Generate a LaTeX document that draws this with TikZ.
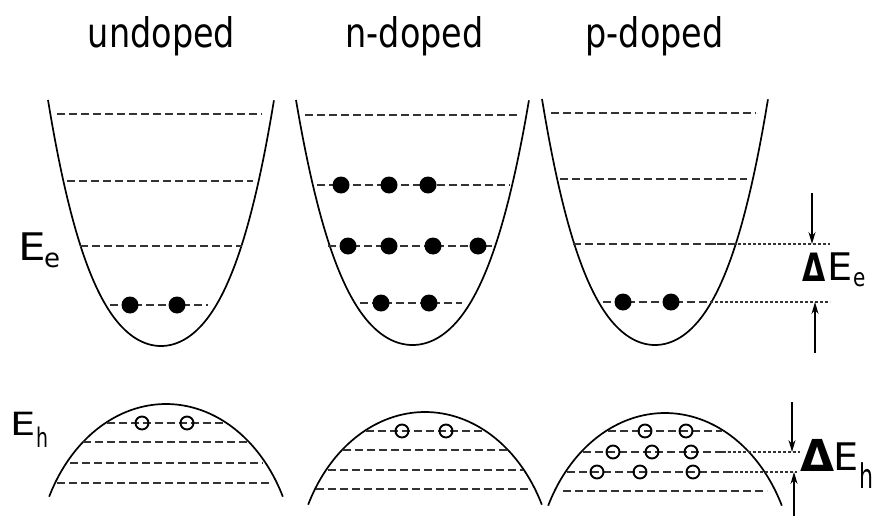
\documentclass[tikz,border=0pt]{standalone}
\usepackage{fontspec}
\setmainfont{DejaVu Sans}
\usetikzlibrary{arrows.meta}
\tikzset{
  well/.style={line width=1.7pt, black},
  lvl/.style={line width=2.1pt, black!80, dash pattern=on 8pt off 4pt},
  dotl/.style={line width=1.4pt, black!80, dash pattern=on 3pt off 2pt},
  elec/.style={circle, fill=black, inner sep=0pt, minimum size=17pt},
  hole/.style={circle, draw=black, line width=1.9pt, inner sep=0pt, minimum size=13pt},
  arr/.style={line width=1.4pt, -{Stealth[length=12pt,width=7pt]}},
  lab/.style={anchor=base west, inner sep=0pt, outer sep=0pt},
  ttl/.style={anchor=base, inner sep=0pt, font=\fontsize{40.8}{41}\selectfont},
}
\begin{document}
\begin{tikzpicture}[x=1pt,y=-1pt]
\useasboundingbox (0,0) rectangle (874,516);
% titles
\node[ttl] (t1) at (161.5,48) {\scalebox{0.82}[1]{undoped}};
\node[ttl] (t2) at (414.5,48) {\scalebox{0.82}[1]{n-doped}};
\node[ttl] (t3) at (654.5,48) {\scalebox{0.82}[1]{p-doped}};
% conduction wells
\draw[well] plot[domain=-1:1, samples=81, smooth] ({161+113*\x}, {346-246*(0.6*(\x)^2+0.4*(\x)^4)});
\draw[well] plot[domain=-1:1, samples=81, smooth] ({412.5+116.5*\x}, {345-245*(0.6*(\x)^2+0.4*(\x)^4)});
\draw[well] plot[domain=-1:1, samples=81, smooth] ({655+113*\x}, {345-246*(0.6*(\x)^2+0.4*(\x)^4)});
% valence bands
\draw[well] plot[domain=-64:64, samples=81, smooth] ({166+130*sin(\x)}, {404+165*(1-cos(\x))});
\draw[well] plot[domain=-64:64, samples=81, smooth] ({425+130*sin(\x)}, {412+165*(1-cos(\x))});
\draw[well] plot[domain=-64:64, samples=81, smooth] ({665+130*sin(\x)}, {413+165*(1-cos(\x))});
% levels undoped
\draw[lvl] (57,114) -- (262,114);
\draw[lvl] (67,181) -- (253,181);
\draw[lvl] (80,246) -- (242,246);
\draw[lvl] (110,305) -- (208,305);
% levels n-doped
\draw[lvl] (305,115) -- (517,115);
\draw[lvl] (317,185) -- (510,185);
\draw[lvl] (328,246) -- (493,246);
\draw[lvl] (360,303) -- (462,303);
% levels p-doped
\draw[lvl] (551,113) -- (756,113);
\draw[lvl] (560,179) -- (747,179);
\draw[lvl] (573,244) -- (737,244);
\draw[lvl] (603,302) -- (707,302);
\draw[dotl] (708,244) -- (830,244);
\draw[dotl] (710,302) -- (830,302);
% hole levels undoped
\draw[lvl] (107,423) -- (223,423);
\draw[lvl] (83,442) -- (248,442);
\draw[lvl] (70,463) -- (263,463);
\draw[lvl] (57,483) -- (270,483);
% hole levels n-doped
\draw[lvl] (366,431) -- (483,431);
\draw[lvl] (343,450) -- (508,450);
\draw[lvl] (328,470) -- (523,470);
\draw[lvl] (316,489) -- (530,489);
% hole levels p-doped
\draw[lvl] (608,431) -- (722,431);
\draw[lvl] (583,452) -- (727,452);
\draw[lvl] (567,472) -- (730,472);
\draw[lvl] (563,491) -- (767,491);
\draw[dotl] (718,452) -- (800,452);
\draw[dotl] (725,472) -- (797,472);
% electrons
\node[elec] (u1) at (130,305) {};
\node[elec] (u2) at (177,305) {};
\node[elec] (n1) at (341,185) {};
\node[elec] (n2) at (389,185) {};
\node[elec] (n3) at (428,185) {};
\node[elec] (n4) at (348,246) {};
\node[elec] (n5) at (389,246) {};
\node[elec] (n6) at (433,246) {};
\node[elec] (n7) at (478,246) {};
\node[elec] (n8) at (381,303) {};
\node[elec] (n9) at (429,303) {};
\node[elec] (p1) at (623,302) {};
\node[elec] (p2) at (671,302) {};
% holes
\node[hole] (uh1) at (142,423) {};
\node[hole] (uh2) at (187,423) {};
\node[hole] (nh1) at (402,431) {};
\node[hole] (nh2) at (446,431) {};
\node[hole] (ph1) at (645,431) {};
\node[hole] (ph2) at (686,431) {};
\node[hole] (ph3) at (613,452) {};
\node[hole] (ph4) at (652,452) {};
\node[hole] (ph5) at (691,452) {};
\node[hole] (ph6) at (597,472) {};
\node[hole] (ph7) at (640,472) {};
\node[hole] (ph8) at (693,472) {};
% arrows
\coordinate (ae1) at (812,193);
\coordinate (ae2) at (812,244);
\coordinate (ae3) at (815,353);
\coordinate (ae4) at (815,302);
\coordinate (ah1) at (792,402);
\coordinate (ah2) at (792,452);
\coordinate (ah3) at (794,516);
\coordinate (ah4) at (794,472);
\draw[arr] (ae1) -- (ae2);
\draw[arr] (ae3) -- (ae4);
\draw[arr] (ah1) -- (ah2);
\draw[arr] (ah3) -- (ah4);
% labels
\node[lab, font=\fontsize{38}{38}\selectfont] (Ee) at (18,260) {\scalebox{1.15}[1]{E}};
\node[lab, font=\fontsize{26}{26}\selectfont] (Ees) at (44,267) {e};
\node[lab, font=\fontsize{32}{32}\selectfont] (Eh) at (10,435) {\scalebox{1.25}[1]{E}};
\node[lab, font=\fontsize{27}{27}\selectfont] (Ehs) at (36,447) {\scalebox{0.7}[1]{h}};
\node[lab, font=\bfseries\fontsize{30}{30}\selectfont] (dE1) at (802,281) {\scalebox{1}[1.3]{Δ}};
\node[lab, font=\fontsize{38}{38}\selectfont] (dE1E) at (827,280) {\scalebox{1.05}[1]{E}};
\node[lab, font=\fontsize{25}{25}\selectfont] (dE1s) at (853,286) {\scalebox{0.8}[1]{e}};
\node[lab, font=\bfseries\fontsize{44}{44}\selectfont] (dE2) at (800,471) {Δ};
\node[lab, font=\fontsize{38}{38}\selectfont] (dE2E) at (833,470) {\scalebox{1.05}[1]{E}};
\node[lab, font=\fontsize{34}{34}\selectfont] (dE2s) at (859,488) {\scalebox{0.65}[1]{h}};
\end{tikzpicture}
\end{document}
